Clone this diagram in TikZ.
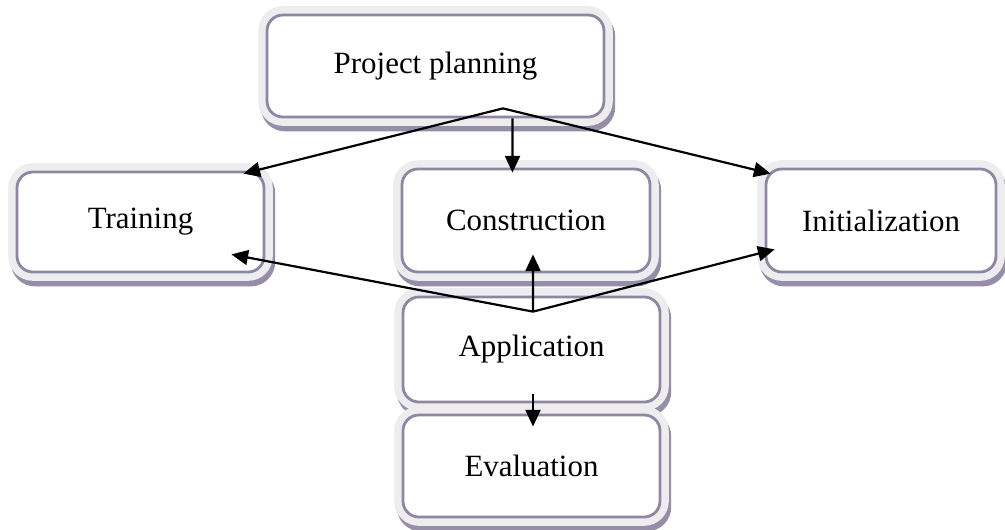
\documentclass[tikz,border=0pt]{standalone}
\usepackage{fontspec}
\setmainfont{Liberation Serif}
\usetikzlibrary{arrows.meta,calc}

\definecolor{boxedge}{RGB}{143,135,162}
\definecolor{boxglow}{RGB}{237,237,240}
\definecolor{boxshade}{RGB}{150,142,168}

\begin{document}
\begin{tikzpicture}[x=0.02cm,y=-0.02cm,
    stage/.style={rectangle,rounded corners=9pt,fill=white,draw=boxedge,line width=1.6pt,
        inner sep=0pt,font=\fontsize{17.6}{20}\selectfont,
        preaction={draw=boxshade,line width=10pt,transform canvas={shift={(1.4pt,-3.2pt)}}},
        preaction={draw=boxglow,line width=10pt}},
    flow/.style={-{Triangle[length=9.5pt,width=8.5pt]},line width=1.25pt}]
    \useasboundingbox (0,0) rectangle (1005,529);

    % Boxes
    \node[stage,minimum width=6.74cm,minimum height=2.04cm] (plan) at (435.5,66) {Project planning};
    \node[stage,minimum width=4.94cm,minimum height=2.0cm] (train) at (140.5,222) {Training};
    \node[stage,minimum width=4.96cm,minimum height=2.06cm] (constr) at (526,220.5) {Construction};
    \node[stage,minimum width=4.6cm,minimum height=2.06cm] (init) at (881,220.5) {Initialization};
    \node[stage,minimum width=5.14cm,minimum height=2.1cm] (app) at (531.5,349.5) {Application};
    \node[stage,minimum width=5.14cm,minimum height=2.04cm] (eval) at (531.5,466) {Evaluation};

    % Fork points
    \coordinate (planfork) at ($(plan.south)+(67.5,-10)$);
    \coordinate (appfork) at ($(app.north)+(1.5,16)$);

    % Arrows from project planning
    \draw[flow] (planfork) -- ($(train.north east)+(-22,3)$);
    \draw[flow] (planfork) -- ($(init.north west)+(6,6)$);
    \draw[flow] ($(plan.south)+(77,0)$) -- ($(constr.north)+(-13.5,5)$);

    % Arrows from application
    \draw[flow] (appfork) -- ($(train.south east)+(-34,-19)$);
    \draw[flow] (appfork) -- ($(init.south west)+(10,-24)$);
    \draw[flow] (appfork) -- ($(constr.south)+(7,-19)$);
    \draw[flow] ($(app.south)+(1.5,-9)$) -- ($(eval.north)+(1.5,13)$);
\end{tikzpicture}
\end{document}
